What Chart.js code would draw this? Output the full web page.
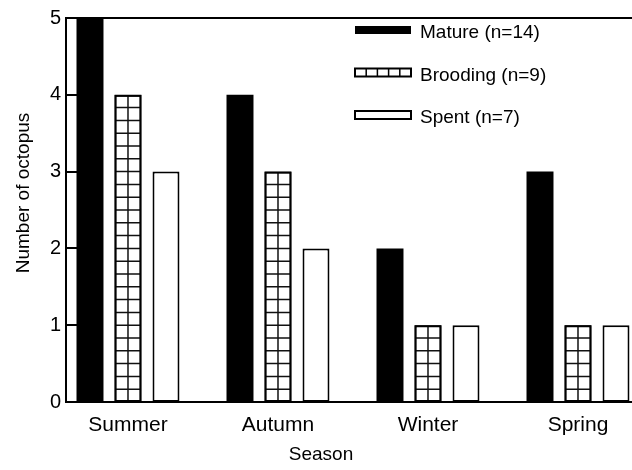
<!DOCTYPE html>
<html>
<head>
<meta charset="utf-8">
<script src="https://cdn.jsdelivr.net/npm/chart.js@4/dist/chart.umd.min.js"></script>
<style>
  html, body { margin: 0; padding: 0; background: #fff; overflow: hidden; }
  canvas { display: block; }
</style>
</head>
<body>
<canvas id="c" width="632" height="470"></canvas>
<script>
// Reproductive stage of octopus by season
const seasons = ['Summer', 'Autumn', 'Winter', 'Spring'];
const stages = ['Mature', 'Brooding', 'Spent'];
const mature = [5, 4, 2, 3];
const brooding = [4, 3, 1, 1];
const spent = [3, 2, 1, 1];
const yTicks = [0, 1, 2, 3, 4, 5];
const xTitle = 'Season';
const yTitle = 'Number of octopus';

const FONT = "'Liberation Sans', Arial, Helvetica, sans-serif";
const INK = '#000';

const total = arr => arr.reduce((a, b) => a + b, 0);
const toPoints = arr => arr.map((v, i) => ({ x: i, y: v }));
const stageLabel = (name, arr) => `${name} (n=${total(arr)})`;

// Brooding bars are white with a square grid (2 columns, 6 rows per unit)
function drawGrid(ctx, left, right, top, bottom, yScale, value) {
  ctx.save();
  ctx.beginPath();
  ctx.rect(left, top, right - left, bottom - top);
  ctx.clip();
  ctx.strokeStyle = '#111';
  ctx.lineWidth = 1.5;
  ctx.beginPath();
  const mid = (left + right) / 2;
  ctx.moveTo(mid, top);
  ctx.lineTo(mid, bottom);
  for (let k = 1; k < value * 6; k++) {
    const py = yScale.getPixelForValue(k / 6);
    ctx.moveTo(left, py);
    ctx.lineTo(right, py);
  }
  ctx.stroke();
  ctx.restore();
}

const decorations = {
  id: 'decorations',
  beforeDatasetsDraw(chart) {
    // inward tick marks on the value axis
    const { ctx, chartArea, scales } = chart;
    ctx.save();
    ctx.strokeStyle = INK;
    ctx.lineWidth = 2;
    ctx.beginPath();
    yTicks.forEach(t => {
      const py = Math.round(scales.y.getPixelForValue(t));
      ctx.moveTo(chartArea.left, py);
      ctx.lineTo(chartArea.left + 11, py);
    });
    ctx.stroke();
    ctx.restore();
  },
  afterDatasetsDraw(chart) {
    const { ctx, scales } = chart;
    const meta = chart.getDatasetMeta(1);
    meta.data.forEach((bar, i) => {
      const p = bar.getProps(['x', 'y', 'base', 'width'], true);
      const half = p.width / 2;
      drawGrid(ctx, p.x - half + 1, p.x + half - 1, p.y + 1, p.base - 1, scales.y, brooding[i]);
      // redraw outline on top of the grid
      ctx.save();
      ctx.strokeStyle = INK;
      ctx.lineWidth = 2;
      ctx.strokeRect(p.x - half + 1, p.y + 1, p.width - 2, p.base - p.y - 2);
      ctx.restore();
    });
  },
  afterDraw(chart) {
    const { ctx, chartArea } = chart;
    ctx.save();
    // top frame line
    ctx.strokeStyle = INK;
    ctx.lineWidth = 2;
    ctx.beginPath();
    ctx.moveTo(chartArea.left, chartArea.top);
    ctx.lineTo(chartArea.right, chartArea.top);
    ctx.stroke();

    // legend
    ctx.font = `19px ${FONT}`;
    ctx.fillStyle = INK;
    ctx.textBaseline = 'middle';
    ctx.textAlign = 'left';
    const lx = chartArea.left + 289;
    const sw = 56, sh = 8;
    chart.data.datasets.forEach((ds, i) => {
      const ty = chartArea.top + 15 + i * 42.5;
      const sy = ty - 3 - sh / 2;
      if (i === 0) {
        ctx.fillStyle = INK;
        ctx.fillRect(lx, sy, sw, sh);
      } else {
        ctx.fillStyle = '#fff';
        ctx.fillRect(lx, sy, sw, sh);
        ctx.strokeStyle = INK;
        ctx.lineWidth = 2;
        ctx.strokeRect(lx, sy, sw, sh);
        if (i === 1) {
          ctx.lineWidth = 1.5;
          ctx.beginPath();
          for (let k = 1; k < 5; k++) {
            const px = lx + (sw * k) / 5;
            ctx.moveTo(px, sy);
            ctx.lineTo(px, sy + sh);
          }
          ctx.stroke();
        }
      }
      ctx.fillStyle = INK;
      ctx.fillText(ds.label, lx + 65, ty);
    });

    // axis titles
    ctx.font = `19px ${FONT}`;
    ctx.textAlign = 'center';
    ctx.textBaseline = 'middle';
    ctx.fillText(xTitle, chartArea.left + 255, 455);
    ctx.translate(24, chartArea.top + 175);
    ctx.rotate(-Math.PI / 2);
    ctx.fillText(yTitle, 0, 0);
    ctx.restore();
  }
};

new Chart(document.getElementById('c'), {
  type: 'bar',
  data: {
    datasets: [
      {
        label: stageLabel(stages[0], mature),
        data: toPoints(mature),
        backgroundColor: INK,
        borderColor: INK,
        borderWidth: 0
      },
      {
        label: stageLabel(stages[1], brooding),
        data: toPoints(brooding),
        backgroundColor: '#fff',
        borderColor: INK,
        borderWidth: 2,
        borderSkipped: false
      },
      {
        label: stageLabel(stages[2], spent),
        data: toPoints(spent),
        backgroundColor: '#fff',
        borderColor: INK,
        borderWidth: 2,
        borderSkipped: false
      }
    ]
  },
  options: {
    responsive: false,
    animation: false,
    devicePixelRatio: 1,
    categoryPercentage: 0.76,
    barPercentage: 0.71,
    layout: { padding: { top: 18, right: 0, bottom: 0, left: 0 } },
    plugins: {
      legend: { display: false },
      tooltip: { enabled: false }
    },
    scales: {
      x: {
        type: 'linear',
        offset: false,
        min: -0.4133,
        max: 3.36,
        grid: { display: false, drawTicks: false, offset: false },
        border: { display: true, color: INK, width: 2 },
        afterBuildTicks(scale) {
          scale.ticks = seasons.map((_, i) => ({ value: i }));
        },
        afterFit(scale) { scale.height = 68; },
        ticks: {
          autoSkip: false,
          maxRotation: 0,
          padding: 11,
          color: INK,
          font: { family: FONT, size: 21 },
          callback: v => seasons[v] ?? ''
        }
      },
      y: {
        min: 0,
        max: 5,
        grid: { display: false, drawTicks: false },
        border: { display: true, color: INK, width: 2 },
        afterBuildTicks(scale) {
          scale.ticks = yTicks.map(v => ({ value: v }));
        },
        afterFit(scale) { scale.width = 66; },
        ticks: {
          padding: 5,
          color: INK,
          font: { family: FONT, size: 20 }
        }
      }
    }
  },
  plugins: [decorations]
});
</script>
</body>
</html>
